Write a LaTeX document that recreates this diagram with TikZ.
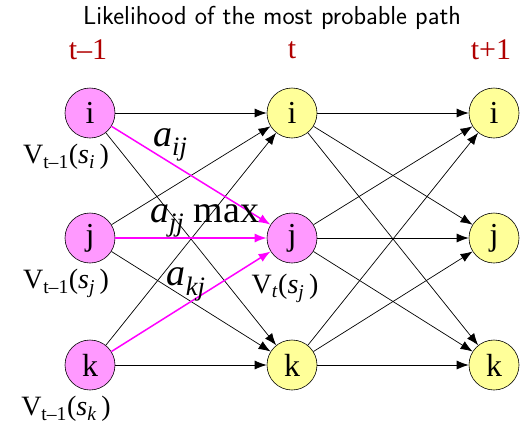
\documentclass[tikz,border=0pt]{standalone}
\usepackage{fontspec}
\setmainfont{Liberation Serif}
\usetikzlibrary{arrows.meta,positioning}
\definecolor{pinkfill}{HTML}{FF99FF}
\definecolor{yellowfill}{HTML}{FFFF99}
\definecolor{tred}{HTML}{B00000}
\definecolor{pathpink}{HTML}{FF00FF}
\newcommand{\trans}[1]{\textit{a}\textsubscript{\textit{#1}}}
\newcommand{\vlab}[2]{V\textsubscript{#1}(\textit{s}\textsubscript{\textit{#2}}\,)}

\begin{document}
\begin{tikzpicture}[x=1pt, y=-1pt, >={Latex[length=12pt,width=9pt]}, line join=round,
  state/.style={circle, draw, line width=0.6pt, minimum size=50pt, inner sep=0pt, font=\fontsize{32}{32}\selectfont},
  vtext/.style={inner sep=0pt, font=\fontsize{28}{28}\selectfont},
  atext/.style={black, inner sep=1pt, font=\fontsize{38}{38}\selectfont},
  edge/.style={line width=0.7pt},
  best/.style={pathpink, line width=1.5pt}]
	\useasboundingbox (0,0) rectangle (522,429);
	\node[font=\sffamily\fontsize{26}{26}\selectfont] (title) at (272,18) {Likelihood of the most probable path};
	\foreach \c/\x/\t in {1/88/t–1, 2/292/t, 3/491/t+1}
		\node[tred, font=\fontsize{30}{30}\selectfont] (time\c) at (\x,50) {\t};
	% states
	\foreach \r/\y in {i/113,j/238,k/365} {
		\node[state, fill=pinkfill] (\r1) at (90,\y) {\r};
		\node[state, fill=yellowfill] (\r3) at (494,\y) {\r};
	}
	\node[state, fill=yellowfill] (i2) at (292,113) {i};
	\node[state, fill=pinkfill] (j2) at (292,238) {j};
	\node[state, fill=yellowfill] (k2) at (292,365) {k};
	% scores
	\foreach \r in {i,j,k}
		\node[vtext, below=6pt of \r1, xshift=-24pt] (v\r) {\vlab{t–1}{\r}};
	\node[vtext, below=11pt of j2, xshift=-7pt] (vt) {V\textsubscript{\textit{t}}(\textit{s}\textsubscript{\textit{j}}\,)};
	% transitions
	\foreach \a in {i,j,k} \foreach \b in {i,k} \draw[->, edge] (\a1) -- (\b2);
	\foreach \a in {i,j,k} \foreach \b in {i,j,k} \draw[->, edge] (\a2) -- (\b3);
	\draw[->, best] (i1) -- node[atext, pos=.37, above=0pt] (aij) {\trans{ij}} (j2);
	\draw[->, best] (j1) -- node[atext, pos=.59, above=-1pt] (ajj) {\trans{jj} max} (j2);
	\draw[->, best] (k1) -- node[atext, pos=.47, above=2pt] (akj) {\trans{kj}} (j2);
\end{tikzpicture}
\end{document}
